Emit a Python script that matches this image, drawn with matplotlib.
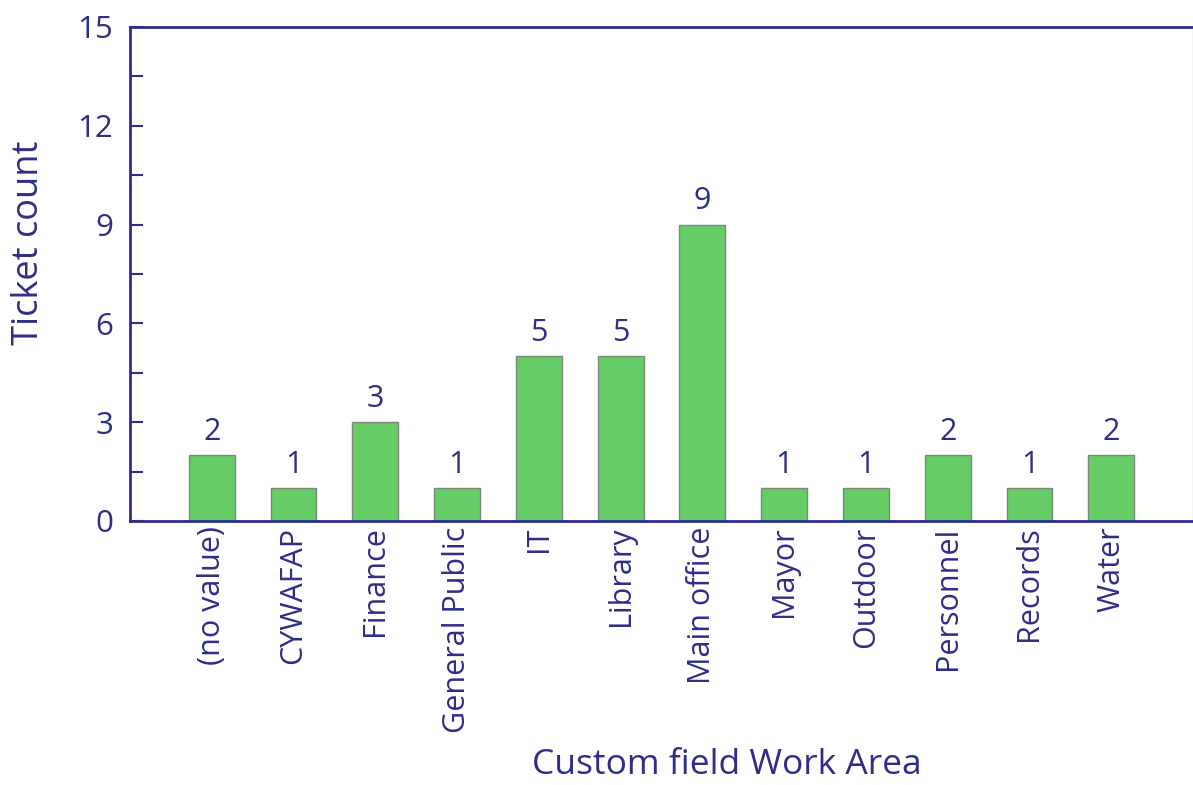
import matplotlib
matplotlib.use("Agg")
import matplotlib.pyplot as plt
from matplotlib.ticker import MultipleLocator

areas = ["(no value)", "CYWAFAP", "Finance", "General Public", "IT", "Library",
         "Main office", "Mayor", "Outdoor", "Personnel", "Records", "Water"]
counts = [2, 1, 3, 1, 5, 5, 9, 1, 1, 2, 1, 2]
y_ticks = [0, 3, 6, 9, 12, 15]

navy = "#2e2e8a"
plt.rcParams["font.family"] = ["Open Sans", "DejaVu Sans"]

W, H = 1193, 785
fig = plt.figure(figsize=(W / 100, H / 100), dpi=100)
ax = fig.add_axes([130 / W, 1 - 521 / H, 1 - 130 / W, (521 - 27) / H])

x = range(len(areas))
bars = ax.bar(x, counts, width=0.56, color="#66cc66", edgecolor="#7a8a7a", linewidth=1)
for b, c in zip(bars, counts):
    ax.text(b.get_x() + b.get_width() / 2, c + 0.25, str(c), ha="center", va="bottom",
            fontsize=22, color=navy)

ax.set_xlim(-1, 12)
ax.set_ylim(0, 15)
ax.set_xticks(list(x))
ax.set_xticklabels(areas, rotation=90, fontsize=22, color=navy)
ax.set_yticks(y_ticks)
ax.yaxis.set_minor_locator(MultipleLocator(1.5))
ax.tick_params(axis="y", which="both", direction="in", colors=navy, labelsize=22.5,
               width=1.5, pad=12)
ax.tick_params(axis="y", which="major", length=9)
ax.tick_params(axis="y", which="minor", length=9)
ax.tick_params(axis="x", length=0, pad=4)

for s in ax.spines.values():
    s.set_color(navy)
    s.set_linewidth(2)
ax.spines["right"].set_linewidth(1)
ax.spines["right"].set_color("#c8c8dc")

# axis titles placed by hand in figure coordinates
fig.text(29 / W, 1 - 243 / H, "Ticket count", fontsize=26, color=navy,
         rotation=90, ha="center", va="center")
fig.text(727 / W, 1 - 765 / H, "Custom field Work Area", fontsize=25.5, color=navy,
         ha="center", va="center")

fig.savefig("out.png", dpi=100)
